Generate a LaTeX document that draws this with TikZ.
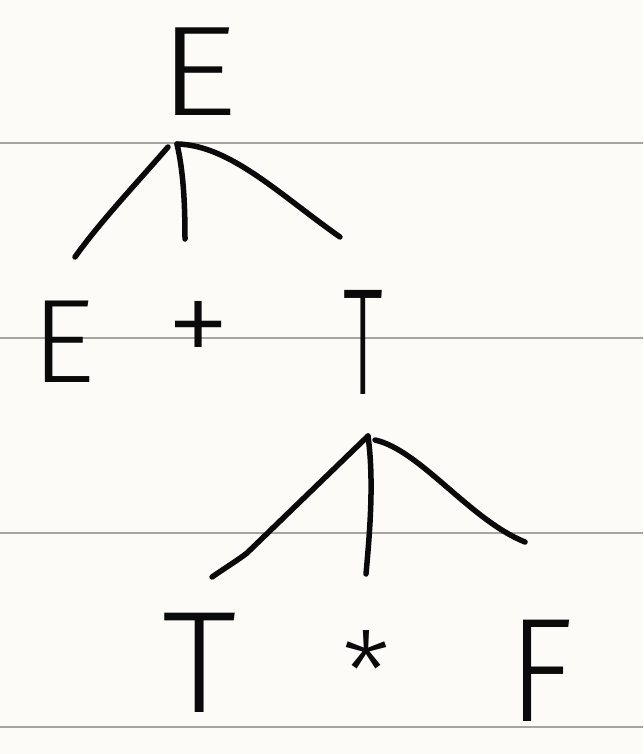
\documentclass[tikz,border=0pt]{standalone}
\usepackage{fontspec}
\newfontfamily\hand{Fira Sans Light}
\definecolor{paper}{HTML}{FCFBF8}
\definecolor{rule}{HTML}{A6A5A2}
\definecolor{ink}{HTML}{0A0A0A}
\tikzset{
  ruleline/.style={rule, line width=2pt},
  edge/.style={ink, line width=5.5pt, line cap=round, line join=round},
  letter/.style={inner sep=0pt, outer sep=0pt, text=ink, font=\hand\fontsize{100}{100}\selectfont}
}
\begin{document}
\begin{tikzpicture}[x=1pt,y=-1pt]
\fill[paper] (0,0) rectangle (643,754);
\useasboundingbox (0,0) rectangle (643,754);
\foreach \yy in {143,338,533,727} \draw[ruleline] (0,\yy) -- (643,\yy);

% letters
\node[letter, xscale=1.55, yscale=1.28] (E0) at (198,72) {E};
\node[letter, xscale=1.25, yscale=1.19] (E1) at (63,342) {E};
\node[letter, scale=1.3] (plus) at (199,334) {+};
\node[letter, xscale=0.8, yscale=1.52] (T1) at (363,342) {T};
\node[letter, xscale=1.5, yscale=1.45] (T2) at (200,663) {T};
\node[letter, scale=1.1] (star) at (366,671) {*};
\node[letter, xscale=1.35, yscale=1.48] (F) at (541,671) {F};

% upper connectors
\coordinate (a0) at (177,144);
\coordinate (a0l) at (168,147);
\coordinate (l0) at (75,257);
\coordinate (m0) at (185,239);
\coordinate (r0) at (340,237);
\draw[edge] (a0l) .. controls (135,185) and (100,222) .. (l0);
\draw[edge] (a0) .. controls (183,170) and (185,200) .. (m0);
\draw[edge] (a0) .. controls (230,145) and (280,195) .. (r0);

% lower connectors
\coordinate (a1) at (368,436);
\coordinate (a1r) at (375,440);
\coordinate (k1) at (247,553);
\coordinate (l1) at (212,577);
\coordinate (m1) at (366,574);
\coordinate (r1) at (525,542);
\draw[edge] (a1) -- (k1) .. controls (238,560) and (225,568) .. (l1);
\draw[edge] (a1) .. controls (374,480) and (370,530) .. (m1);
\draw[edge] (a1r) .. controls (420,450) and (470,520) .. (r1);
\end{tikzpicture}
\end{document}
